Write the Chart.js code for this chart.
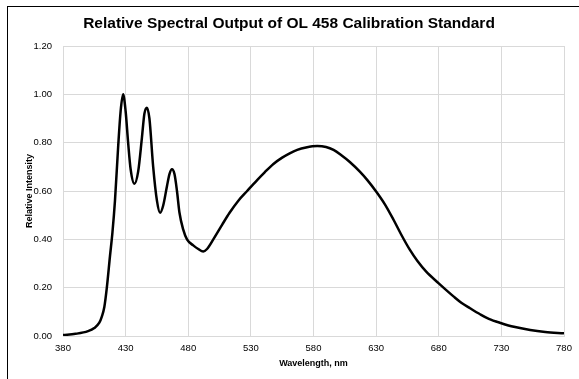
<!DOCTYPE html>
<html>
<head>
<meta charset="utf-8">
<title>Relative Spectral Output of OL 458 Calibration Standard</title>
<script src="https://cdn.jsdelivr.net/npm/chart.js@4.4.1/dist/chart.umd.min.js"></script>
<style>
  html, body { margin: 0; padding: 0; background: #fff; overflow: hidden; }
  #wrap { position: relative; width: 579px; height: 379px; overflow: hidden; }
  #frame { position: absolute; left: 7px; top: 6px; width: 700px; height: 500px; border: 1px solid #000; box-sizing: border-box; pointer-events: none; }
  canvas { position: absolute; left: 0; top: 0; }
</style>
</head>
<body>
<div id="wrap">
  <canvas id="spectrum" width="579" height="379"></canvas>
  <div id="frame"></div>
</div>
<script>
// values
const wavelengths = [
  380, 390, 400, 405, 409, 411, 413, 415, 417.5, 419.5, 421.5, 424, 426, 428,
  430, 432, 434, 437, 440, 443, 445, 447, 449, 452, 455, 457.5, 460, 463, 465,
  467, 469, 471, 473, 476, 479, 484, 488, 492, 495, 500, 507, 513, 520, 527,
  535, 541, 548, 555, 561, 567, 574, 583, 590, 596, 602, 609, 617, 623, 630,
  637, 644, 650, 657, 663, 670, 680, 686, 692, 698, 705, 713, 720, 730, 740,
  753, 765, 780
];
const intensity = [
  0.004, 0.009, 0.020, 0.033, 0.055, 0.08, 0.12, 0.20, 0.33, 0.43, 0.56, 0.78, 0.93, 1.00,
  0.93, 0.80, 0.69, 0.63, 0.68, 0.82, 0.92, 0.945, 0.90, 0.70, 0.56, 0.51, 0.54, 0.62, 0.67,
  0.69, 0.67, 0.60, 0.51, 0.44, 0.40, 0.375, 0.36, 0.35, 0.36, 0.40, 0.46, 0.51, 0.56, 0.60,
  0.645, 0.677, 0.712, 0.738, 0.756, 0.770, 0.780, 0.786, 0.782, 0.770, 0.749, 0.72, 0.68, 0.645, 0.598,
  0.545, 0.48, 0.42, 0.356, 0.31, 0.266, 0.218, 0.19, 0.163, 0.138, 0.115, 0.09, 0.071, 0.053, 0.038,
  0.025, 0.017, 0.011
];
const xTicks = [380, 430, 480, 530, 580, 630, 680, 730, 780];
const yTicks = [0, 0.2, 0.4, 0.6, 0.8, 1.0, 1.2];

const points = wavelengths.map((w, i) => ({ x: w, y: intensity[i] }));

const fontFamily = "'Liberation Sans', Arial, sans-serif";
const gridColor = "#d9d9d9";

new Chart(document.getElementById("spectrum"), {
  type: "line",
  data: {
    datasets: [{
      label: "Relative Intensity",
      data: points,
      borderColor: "#000",
      borderWidth: 2.5,
      pointRadius: 0,
      fill: false,
      cubicInterpolationMode: "monotone"
    }]
  },
  options: {
    responsive: false,
    animation: false,
    devicePixelRatio: 1,
    layout: { padding: { left: 14, right: 15, top: 0, bottom: 0 } },
    plugins: {
      legend: { display: false },
      tooltip: { enabled: false },
      title: {
        display: true,
        text: "Relative Spectral Output of OL 458 Calibration Standard",
        color: "#000",
        font: { family: fontFamily, size: 15.5, weight: "bold", lineHeight: 1.2 },
        padding: { top: 14, bottom: 13.4 }
      }
    },
    scales: {
      x: {
        type: "linear",
        min: xTicks[0],
        max: xTicks[xTicks.length - 1],
        afterBuildTicks: s => { s.ticks = xTicks.map(v => ({ value: v })); },
        afterFit: s => { s.height = 43; },
        grid: { color: gridColor, drawTicks: false },
        border: { color: gridColor },
        ticks: { color: "#000", padding: 7, font: { family: fontFamily, size: 9.5 }, maxRotation: 0 },
        title: {
          display: true,
          text: "Wavelength, nm",
          color: "#000",
          font: { family: fontFamily, size: 9, weight: "bold", lineHeight: 1.2 },
          padding: { top: 0, bottom: 10 }
        }
      },
      y: {
        min: yTicks[0],
        max: yTicks[yTicks.length - 1],
        afterBuildTicks: s => { s.ticks = yTicks.map(v => ({ value: v })); },
        afterFit: s => { s.width = 49; },
        grid: { color: gridColor, drawTicks: false },
        border: { color: gridColor },
        ticks: {
          color: "#000",
          padding: 11,
          font: { family: fontFamily, size: 9.5 },
          callback: v => Number(v).toFixed(2)
        },
        title: {
          display: true,
          text: "Relative Intensity",
          color: "#000",
          font: { family: fontFamily, size: 9, weight: "bold", lineHeight: 1.2 },
          padding: { top: 10, bottom: 0 }
        }
      }
    }
  }
});
</script>
</body>
</html>
